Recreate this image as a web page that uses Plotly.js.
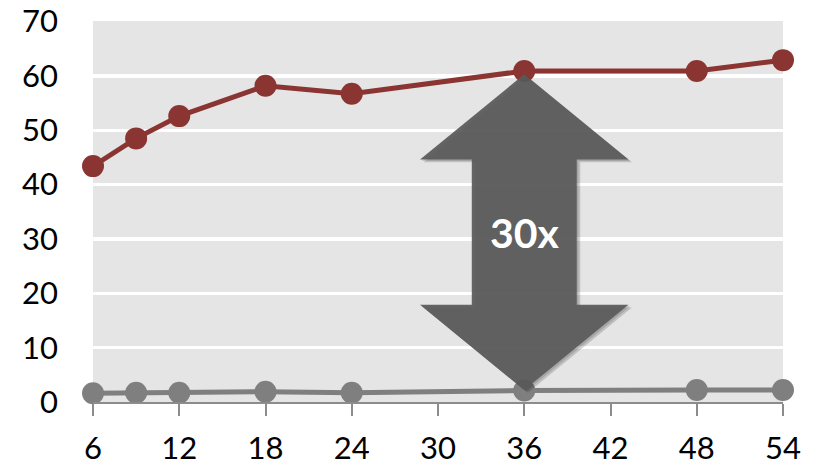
<!DOCTYPE html>
<html>
<head>
<meta charset="utf-8">
<script src="https://cdn.plot.ly/plotly-3.0.1.min.js"></script>
<style>html,body{margin:0;padding:0;background:#fff;}#chart{width:819px;height:465px;}</style>
</head>
<body>
<div id="chart"></div>
<script>
const xValues = [6, 9, 12, 18, 24, 36, 48, 54];
const upperSeries = [43.4, 48.5, 52.6, 58.2, 56.7, 60.9, 60.9, 62.9];
const lowerSeries = [1.6, 1.7, 1.7, 1.9, 1.7, 2.1, 2.2, 2.2];
const xTicks = [6, 12, 18, 24, 30, 36, 42, 48, 54];
const yTicks = [0, 10, 20, 30, 40, 50, 60, 70];
const arrowLabel = '30x';
const arrowAt = 36;

const iA = xValues.indexOf(arrowAt);
const yTop = upperSeries[iA] - 0.6;
const yBot = lowerSeries[iA] + 0.1;
// arrow geometry (relative to arrow location)
const headHalf = 7.25, shaftHalf = 3.65;
const span = yTop - yBot;
const headLen = span * 0.27;
function arrowPath(dx, dy) {
  const c = arrowAt + dx;
  const pts = [
    [c, yTop + dy],
    [c + headHalf, yTop - headLen + dy],
    [c + shaftHalf, yTop - headLen + dy],
    [c + shaftHalf, yBot + headLen + dy],
    [c + headHalf, yBot + headLen + dy],
    [c, yBot + dy],
    [c - headHalf, yBot + headLen + dy],
    [c - shaftHalf, yBot + headLen + dy],
    [c - shaftHalf, yTop - headLen + dy],
    [c - headHalf, yTop - headLen + dy]
  ];
  return 'M' + pts.map(p => p[0] + ',' + p[1]).join(' L') + ' Z';
}

const FONT = 'Lato, Open Sans, Liberation Sans, sans-serif';

const traces = [
  {x: xValues, y: lowerSeries, mode: 'lines+markers', type: 'scatter',
   line: {color: '#7f7f7f', width: 5}, marker: {color: '#7f7f7f', size: 22},
   hoverinfo: 'skip', cliponaxis: false},
  {x: xValues, y: upperSeries, mode: 'lines+markers', type: 'scatter',
   line: {color: '#8b3533', width: 5}, marker: {color: '#8b3533', size: 22},
   hoverinfo: 'skip', cliponaxis: false}
];

const layout = {
  width: 819, height: 465,
  margin: {l: 93, r: 36, t: 21, b: 63, pad: 0},
  paper_bgcolor: '#ffffff',
  plot_bgcolor: '#e5e5e5',
  showlegend: false,
  font: {family: FONT, color: '#000000', size: 31},
  xaxis: {
    range: [6, 54], tickvals: xTicks, ticktext: xTicks.map(String),
    showgrid: false, zeroline: false,
    showline: true, linecolor: '#8c8c8c', linewidth: 2,
    ticks: 'outside', ticklen: 12, tickwidth: 2, tickcolor: '#8c8c8c',
    ticklabelstandoff: 6,
    tickfont: {size: 31, color: '#000'}
  },
  yaxis: {
    range: [0, 70.1], tickvals: yTicks, ticktext: yTicks.map(String),
    showgrid: true, gridcolor: '#ffffff', gridwidth: 3.5,
    zeroline: false, showline: false,
    ticks: '', ticklabelstandoff: 34,
    tickfont: {size: 31, color: '#000'}
  },
  shapes: [
    {type: 'path', xref: 'x', yref: 'y', path: arrowPath(0.25, -0.5),
     fillcolor: 'rgba(0,0,0,0.16)', line: {width: 0}, layer: 'above'},
    {type: 'path', xref: 'x', yref: 'y', path: arrowPath(0.12, -0.25),
     fillcolor: 'rgba(0,0,0,0.14)', line: {width: 0}, layer: 'above'},
    {type: 'path', xref: 'x', yref: 'y', path: arrowPath(0, 0),
     fillcolor: 'rgba(90,90,90,0.93)', line: {width: 0}, layer: 'above'}
  ],
  annotations: [
    {x: arrowAt + 0.05, y: (yTop + yBot) / 2, xref: 'x', yref: 'y',
     text: '<b>' + arrowLabel + '</b>', showarrow: false,
     font: {family: FONT, size: 41, color: '#ffffff'}}
  ]
};

Plotly.newPlot('chart', traces, layout, {staticPlot: true, displayModeBar: false});
</script>
</body>
</html>
